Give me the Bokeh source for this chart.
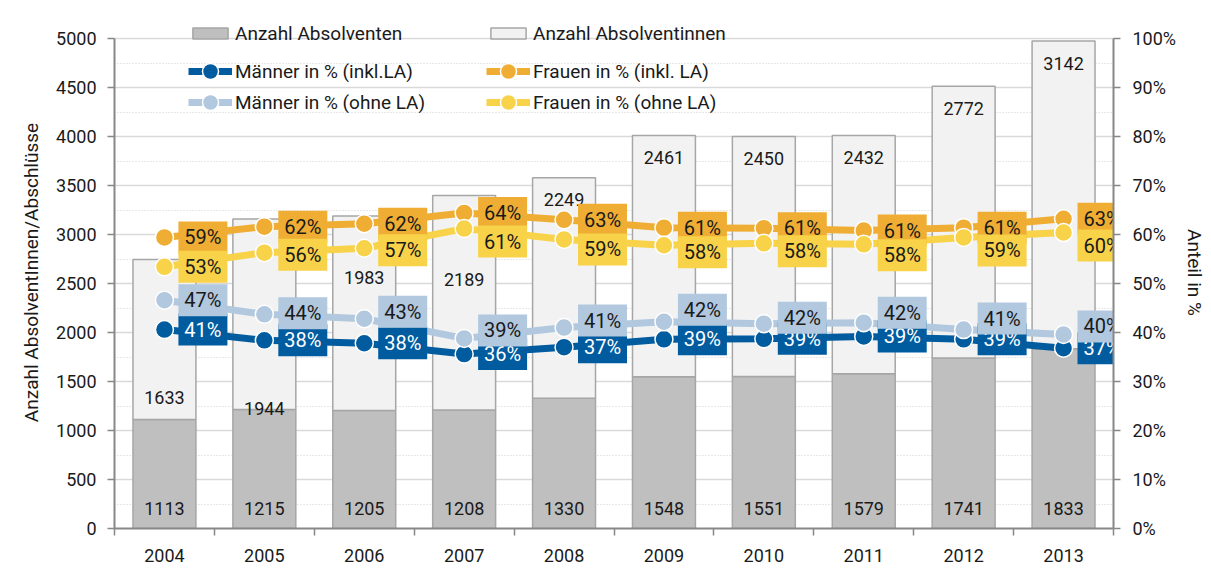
from bokeh.plotting import figure
from bokeh.models import (ColumnDataSource, LinearAxis, Range1d, FixedTicker,
                          PrintfTickFormatter, Legend, LegendItem)
from bokeh.embed import file_html
from bokeh.resources import INLINE
from bokeh.core.properties import value

# ---------------- data ----------------
years = ["2004", "2005", "2006", "2007", "2008", "2009", "2010", "2011", "2012", "2013"]
absolventen = [1113, 1215, 1205, 1208, 1330, 1548, 1551, 1579, 1741, 1833]
absolventinnen = [1633, 1944, 1983, 2189, 2249, 2461, 2450, 2432, 2772, 3142]
maenner_inkl = [40.6, 38.4, 37.8, 35.6, 37.0, 38.6, 38.7, 39.2, 38.6, 36.8]
frauen_inkl = [59.4, 61.6, 62.2, 64.4, 63.0, 61.4, 61.3, 60.8, 61.4, 63.2]
maenner_ohne = [46.6, 43.7, 42.8, 38.8, 41.0, 42.2, 41.8, 42.0, 40.6, 39.6]
frauen_ohne = [53.4, 56.3, 57.2, 61.2, 59.0, 57.8, 58.2, 58.0, 59.4, 60.4]
y_ticks = [0, 500, 1000, 1500, 2000, 2500, 3000, 3500, 4000, 4500, 5000]
pct_ticks = [0, 10, 20, 30, 40, 50, 60, 70, 80, 90, 100]

# manual nudges of the data-label boxes (pixels, positive = downwards)
zero_dy = [0] * 10
fo_label_dy = [0, 2, 2, 13, 10, 7, 8, 11, 13, 13]
mo_label_dy = [0, -1, -7, -8, -7, -12, -6, -10, -11, -8]

FONT_NAME = "Roboto"
FONT = value(FONT_NAME)
TXT = "#1a1a1a"
GRAY_BAR = "#BFBFBF"
LIGHT_BAR = "#F2F2F2"
BAR_LINE = "#A6A6A6"
AXIS_COL = "#878787"
C_MI = "#005B9F"
C_FI = "#EFAE33"
C_MO = "#B1C8DE"
C_FO = "#F8D249"

xs = list(range(len(years)))
totals = [a + b for a, b in zip(absolventen, absolventinnen)]
# inside-end label placement, with manual moves for the first four years
fem_label_y = [t - 225 for t in totals]
fem_label_y[0:4] = [1337, 1224, 2561, 2541]

# frame: left 114, right 1127, 5000-line at 38, baseline at 528; headroom above for legend
W, H = 1209, 578
LEFT, RIGHT, BASE, TOP = 114, 1127, 528, 16
Y_MAX = 5000
y_end = Y_MAX * (BASE - TOP) / 490.0
p_end = 100 * (BASE - TOP) / 490.0
px_per_cat = (RIGHT - LEFT) / 10.0
px_per_pct = 490 / 100.0
LABEL_DX = 39 / px_per_cat  # data-label boxes sit right of each point

p = figure(width=W, height=H, x_range=Range1d(-0.5, 9.5), y_range=Range1d(0, y_end),
           output_backend="svg", toolbar_location=None,
           min_border_left=LEFT, min_border_right=W - RIGHT, min_border_top=TOP,
           min_border_bottom=H - BASE)
p.extra_y_ranges = {"pct": Range1d(0, p_end)}
p.outline_line_color = None
p.background_fill_color = "white"
p.border_fill_color = "white"

# grid
p.xgrid.grid_line_color = None
p.ygrid.grid_line_color = "#D9D9D9"
p.ygrid.grid_line_width = 1.5
p.ygrid.minor_grid_line_color = "#D0D0D0"
p.ygrid.minor_grid_line_dash = "1 2"
p.ygrid.minor_grid_line_width = 1


def style_axis(ax, label_standoff):
    ax.axis_label_text_font = FONT_NAME
    ax.axis_label_text_font_size = "19px"
    ax.axis_label_text_font_style = "normal"
    ax.axis_label_text_color = TXT
    ax.major_label_text_font = FONT_NAME
    ax.major_label_text_font_size = "18px"
    ax.major_label_text_color = TXT
    ax.major_label_standoff = label_standoff
    ax.axis_line_color = AXIS_COL
    ax.axis_line_width = 2
    ax.major_tick_line_color = AXIS_COL
    ax.major_tick_line_width = 1.5
    ax.minor_tick_line_color = AXIS_COL
    ax.minor_tick_line_width = 1.5


# left axis
yax = p.yaxis[0]
yax.ticker = FixedTicker(ticks=y_ticks, minor_ticks=[v + 250 for v in y_ticks[:-1]])
yax.bounds = (0, Y_MAX)
yax.axis_label = "Anzahl AbsolventInnen/Abschlüsse"
style_axis(yax, 11)
yax.axis_label_standoff = 10
yax.major_tick_out = 7
yax.major_tick_in = 0
yax.minor_tick_out = 0
yax.minor_tick_in = 0

# right axis
rax = LinearAxis(y_range_name="pct", ticker=FixedTicker(ticks=pct_ticks),
                 formatter=PrintfTickFormatter(format="%d%%"), bounds=(0, 100))
rax.axis_label = "Anteil in %"
style_axis(rax, 12)
rax.axis_label_standoff = 4
rax.axis_label_orientation = "vertical"
rax.major_tick_out = 7
rax.major_tick_in = 0
rax.minor_tick_out = 0
rax.minor_tick_in = 0
p.add_layout(rax, "right")

# x axis
xax = p.xaxis[0]
xax.ticker = FixedTicker(ticks=xs, minor_ticks=[i - 0.5 for i in range(len(years) + 1)])
xax.major_label_overrides = {i: y for i, y in enumerate(years)}
style_axis(xax, 13)
xax.major_tick_out = 0
xax.major_tick_in = 0
xax.minor_tick_out = 7
xax.minor_tick_in = 0

# bars
src = ColumnDataSource(dict(x=xs, m=absolventen, f=absolventinnen, t=totals,
                            mlab=[str(v) for v in absolventen],
                            flab=[str(v) for v in absolventinnen],
                            fy=fem_label_y, my=[200] * len(xs)))
bar_m = p.vbar(x="x", bottom=0, top="m", width=0.63, source=src,
               fill_color=GRAY_BAR, line_color=BAR_LINE, line_width=1.5)
bar_f = p.vbar(x="x", bottom="m", top="t", width=0.63, source=src,
               fill_color=LIGHT_BAR, line_color=BAR_LINE, line_width=1.5)
p.text(x="x", y="my", text="mlab", source=src, text_font=FONT, text_font_size="18px",
       text_align="center", text_baseline="middle", text_color=TXT)
p.text(x="x", y="fy", text="flab", source=src, text_font=FONT, text_font_size="18px",
       text_align="center", text_baseline="middle", text_color=TXT)

# lines
series = [
    ("Männer in % (inkl.LA)", maenner_inkl, C_MI, "white", zero_dy),
    ("Frauen in % (inkl. LA)", frauen_inkl, C_FI, TXT, zero_dy),
    ("Männer in % (ohne LA)", maenner_ohne, C_MO, TXT, mo_label_dy),
    ("Frauen in % (ohne LA)", frauen_ohne, C_FO, TXT, fo_label_dy),
]
line_renderers = []
for name, vals, col, tcol, dy in series:
    s = ColumnDataSource(dict(x=xs, y=vals))
    ln = p.line(x="x", y="y", source=s, y_range_name="pct", line_color=col, line_width=7)
    sc = p.scatter(x="x", y="y", source=s, y_range_name="pct", size=18, marker="circle",
                   fill_color=col, line_color="white", line_width=1.5)
    line_renderers.append((name, ln, sc))

# data labels (boxes on top of all lines)
for name, vals, col, tcol, dy in series:
    s = ColumnDataSource(dict(x=[i + LABEL_DX for i in xs],
                              y=[v - d / px_per_pct for v, d in zip(vals, dy)],
                              lab=[f"{round(v):d}%" for v in vals]))
    p.rect(x="x", y="y", width=49, height=32, width_units="screen", height_units="screen",
           source=s, y_range_name="pct", fill_color=col, line_color=None)
    p.text(x="x", y="y", text="lab", source=s, y_range_name="pct",
           text_font=FONT, text_font_size="20px", text_align="center",
           text_baseline="middle", text_color=tcol)


# legends: one per entry so that rows and columns match the reference grid
def add_legend(label, renderers, x, center_y, gh):
    h = max(gh, 24)
    lg = Legend(items=[LegendItem(label=label, renderers=renderers)],
                location=(x, BASE - center_y - h / 2), orientation="vertical",
                glyph_width=44, glyph_height=gh, label_standoff=3, spacing=0,
                label_height=h, padding=0, margin=0, border_line_color=None,
                background_fill_alpha=0, label_text_font=FONT_NAME,
                label_text_font_size="19px", label_text_color=TXT,
                label_text_baseline="middle")
    p.add_layout(lg, "center")


COL1, COL2 = 188 - LEFT, 486 - LEFT
add_legend("Anzahl Absolventen", [bar_m], COL1, 33, 14)
add_legend("Anzahl Absolventinnen", [bar_f], COL2, 33, 14)
add_legend(line_renderers[0][0], [line_renderers[0][1], line_renderers[0][2]], COL1, 71, 40)
add_legend(line_renderers[1][0], [line_renderers[1][1], line_renderers[1][2]], COL2, 71, 40)
add_legend(line_renderers[2][0], [line_renderers[2][1], line_renderers[2][2]], COL1, 102, 40)
add_legend(line_renderers[3][0], [line_renderers[3][1], line_renderers[3][2]], COL2, 102, 40)

open("out.html", "w").write(file_html(p, INLINE))
